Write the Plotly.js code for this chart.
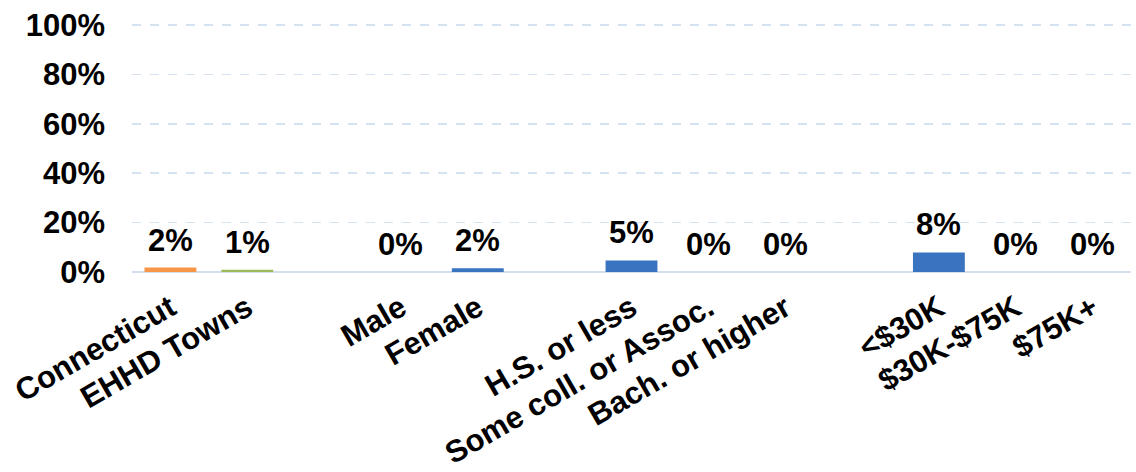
<!DOCTYPE html>
<html>
<head>
<meta charset="utf-8">
<script src="https://cdn.plot.ly/plotly-3.0.1.min.js"></script>
<style>html,body{margin:0;padding:0;background:#fff;}#chart{width:1136px;height:472px;}</style>
</head>
<body>
<div id="chart"></div>
<script>
// Data
var groups = [
  ['Connecticut', 'EHHD Towns'],
  ['Male', 'Female'],
  ['H.S. or less', 'Some coll. or Assoc.', 'Bach. or higher'],
  ['<$30K', '$30K-$75K', '$75K+']
];
var values = [
  [1.8, 0.9],
  [0, 1.5],
  [4.7, 0, 0],
  [7.9, 0, 0]
];
var barColors = [
  ['#F79646', '#9BBB59'],
  ['#3A73C0', '#3A73C0'],
  ['#3A73C0', '#3A73C0', '#3A73C0'],
  ['#3A73C0', '#3A73C0', '#3A73C0']
];
var yTickVals = [0, 20, 40, 60, 80, 100];
var yTickText = ['0%', '20%', '40%', '60%', '80%', '100%'];

// Build category list with blank spacer slots between groups
var xs = [], ys = [], cols = [], spacer = ' ';
groups.forEach(function (g, gi) {
  if (gi > 0) { xs.push(spacer); ys.push(null); cols.push('rgba(0,0,0,0)'); spacer += ' '; }
  g.forEach(function (c, i) { xs.push(c); ys.push(values[gi][i]); cols.push(barColors[gi][i]); });
});

var FONT = 'Liberation Sans, Arial, sans-serif';
var annotations = [];
xs.forEach(function (x, i) {
  if (ys[i] === null) return;
  annotations.push({
    x: x, y: ys[i], xref: 'x', yref: 'y',
    text: Math.round(ys[i]) + '%',
    showarrow: false, yanchor: 'bottom', yshift: 8,
    font: {family: FONT, size: 31, color: '#000', weight: 'bold'}
  });
});

var trace = {
  type: 'bar', x: xs, y: ys,
  marker: {color: cols, line: {width: 0}},
  width: 0.675, hoverinfo: 'skip', cliponaxis: false
};

var layout = {
  width: 1136, height: 472,
  margin: {l: 132, r: 5, t: 20, b: 200, pad: 0},
  paper_bgcolor: '#fff', plot_bgcolor: '#fff',
  showlegend: false,
  font: {family: FONT, color: '#000'},
  xaxis: {
    type: 'category', categoryorder: 'array', categoryarray: xs,
    tickangle: -30, showgrid: false, zeroline: false, showline: false, ticks: '',
    ticklabelstandoff: 11,
    tickfont: {family: FONT, size: 31, color: '#000', weight: 'bold'}
  },
  yaxis: {
    range: [0, 102], tickvals: yTickVals, ticktext: yTickText,
    showgrid: true, gridcolor: '#D5E2F2', gridwidth: 1.5, griddash: 'dash',
    zeroline: true, zerolinecolor: '#D3DFEE', zerolinewidth: 2.5,
    showline: false, ticks: '', ticklabelstandoff: 26,
    tickfont: {family: FONT, size: 31, color: '#000', weight: 'bold'}
  },
  annotations: annotations
};

Plotly.newPlot('chart', [trace], layout, {displayModeBar: false, staticPlot: true});
</script>
</body>
</html>
